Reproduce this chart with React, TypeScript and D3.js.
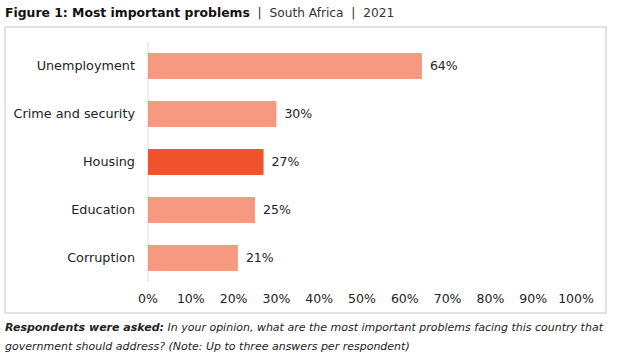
import React from "react";
import * as d3 from "d3";

const categories = ["Unemployment", "Crime and security", "Housing", "Education", "Corruption"];
const values = [64, 30, 27, 25, 21];
const highlighted = ["Housing"];
const tickValues = [0, 10, 20, 30, 40, 50, 60, 70, 80, 90, 100];

const W = 627;
const H = 362;
const FONT = "'DejaVu Sans', sans-serif";

export default function App() {
  const x = d3.scaleLinear().domain([0, 100]).range([148, 576]);
  const y = d3.scaleBand().domain(categories).range([42, 282]).paddingInner(0.46).paddingOuter(0.23);

  return (
    <svg width={W} height={H} style={{ position: "absolute", left: 0, top: 0, background: "#fff" }}>
      <text x={5} y={17} fontFamily={FONT} fontSize={12.4} fill="#111" style={{ whiteSpace: "pre" }}>
        <tspan fontWeight="bold">Figure 1: Most important problems</tspan>
        <tspan fill="#333" fontSize={12.2}>{"  |  South Africa  |  2021"}</tspan>
      </text>
      <rect x={5} y={27} width={601} height={286} fill="none" stroke="#d9d9d9" strokeWidth={1.5} />
      <line x1={x(0)} x2={x(0)} y1={42} y2={282} stroke="#d9d9d9" strokeWidth={1} />
      {categories.map((c, i) => (
        <g key={c}>
          <rect
            x={x(0)}
            y={y(c)}
            width={x(values[i]) - x(0)}
            height={y.bandwidth()}
            fill={highlighted.includes(c) ? "#f0532b" : "#f79880"}
          />
          <text
            x={x(0) - 13}
            y={(y(c) as number) + y.bandwidth() / 2}
            dy="0.35em"
            textAnchor="end"
            fontFamily={FONT}
            fontSize={12.8}
            fill="#222"
          >
            {c}
          </text>
          <text
            x={x(values[i]) + 8}
            y={(y(c) as number) + y.bandwidth() / 2}
            dy="0.35em"
            fontFamily={FONT}
            fontSize={12.5}
            fill="#222"
          >
            {values[i]}%
          </text>
        </g>
      ))}
      {tickValues.map((t) => (
        <text key={t} x={x(t)} y={299} dy="0.35em" textAnchor="middle" fontFamily={FONT} fontSize={12.5} fill="#222">
          {t}%
        </text>
      ))}
      <text x={5} y={331} fontFamily={FONT} fontSize={11} fontStyle="italic" fill="#222">
        <tspan fontWeight="bold">Respondents were asked:</tspan>
        <tspan> In your opinion, what are the most important problems facing this country that</tspan>
      </text>
      <text x={5} y={350} fontFamily={FONT} fontSize={11} fontStyle="italic" fill="#222">
        government should address? (Note: Up to three answers per respondent)
      </text>
    </svg>
  );
}
